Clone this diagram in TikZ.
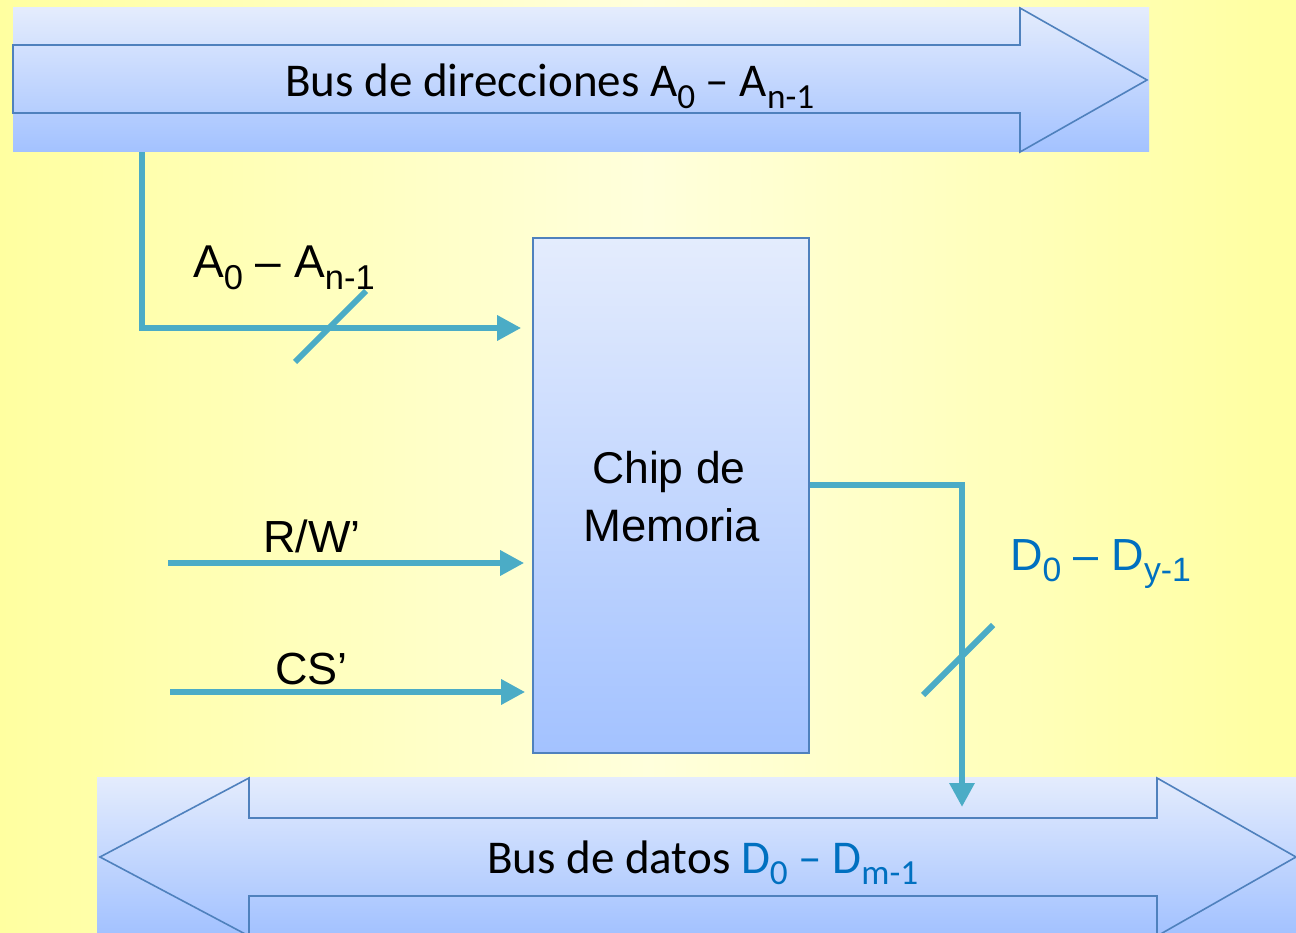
\documentclass[tikz,border=0pt]{standalone}
\usepackage{fontspec}
\setmainfont{Liberation Sans}
\newfontfamily\busfont{Carlito}
\usetikzlibrary{arrows.meta}
\definecolor{wire}{HTML}{4BACC6}
\definecolor{edgeblue}{HTML}{4F81BD}
\definecolor{dblue}{HTML}{0070C0}
\definecolor{boxtop}{HTML}{E4ECFD}
\definecolor{boxbot}{HTML}{A3C2FF}
\definecolor{bgside}{HTML}{FFFFA0}
\definecolor{bgmid}{HTML}{FFFFDC}
\newcommand{\subt}[1]{\raisebox{-0.25em}{\scalebox{0.75}{#1}}}
\begin{document}
\begin{tikzpicture}[x=1pt,y=-1pt,
  wirestyle/.style={draw=wire, line width=6pt, line join=miter},
  wirearrow/.style={wirestyle, -{Triangle[length=24pt,width=24pt]}},
  boxfill/.style={top color=boxtop, bottom color=boxbot, draw=none},
  busline/.style={draw=edgeblue, line width=1.6pt, line join=miter},
  chipstyle/.style={top color=boxtop, bottom color=boxbot, draw=edgeblue, line width=1.6pt, minimum width=276pt, minimum height=515pt, inner sep=0pt},
  lbl/.style={anchor=base west, inner sep=0pt, font=\fontsize{46}{55}\selectfont},
  buslbl/.style={anchor=base west, inner sep=0pt, font=\busfont\fontsize{47}{56}\selectfont}]
\useasboundingbox (0,0) rectangle (1296,933);
\shade[left color=bgside, right color=bgside, middle color=bgmid] (0,0) rectangle (1296,933);

% address bus
\node[boxfill, minimum width=1136pt, minimum height=144pt, inner sep=0pt] (busA) at (581,80) {};
\draw[busline] (13,45) -- (1020,45) -- (1020,8) -- (1147,80) -- (1020,152) -- (1020,113) -- (13,113) -- cycle;
\node[buslbl] (busAtext) at (285,97) {Bus de direcciones A\subt{0} – A\subt{n-1}};

% data bus
\node[boxfill, minimum width=1199pt, minimum height=156pt, inner sep=0pt] (busD) at (696.5,855) {};
\draw[busline] (100,857) -- (249,778) -- (249,818) -- (1157,818) -- (1157,778) -- (1296,857) -- (1157,936) -- (1157,896) -- (249,896) -- (249,936) -- cycle;
\node[buslbl] (busDtext) at (487,873) {Bus de datos \textcolor{dblue}{D\subt{0} – D\subt{m-1}}};

% chip
\node[chipstyle] (chip) at (671,495.5) {};
\node[lbl, font=\fontsize{44.5}{54}\selectfont] (chip1) at (592,483) {Chip de};
\node[lbl, font=\fontsize{45.5}{54}\selectfont] (chip2) at (583,541) {Memoria};

% address wire
\coordinate (aTop) at (142,152);
\coordinate (aCorner) at (142,328);
\draw[wirearrow] (busA.south -| aTop) -- (aCorner) -- ([xshift=-11pt]chip.west |- aCorner);
\draw[wirestyle] (295,362) -- (366,291);
\node[lbl] (alabel) at (193,278) {A\subt{0} – A\subt{n-1}};

% control wires
\coordinate (rwStart) at (168,563);
\coordinate (csStart) at (170,692);
\draw[wirearrow] (rwStart) -- ([xshift=-8pt]chip.west |- rwStart);
\draw[wirearrow] (csStart) -- ([xshift=-7pt]chip.west |- csStart);
\node[lbl, font=\fontsize{45}{54}\selectfont] (rwlabel) at (263,552) {R/W’};
\node[lbl, font=\fontsize{45}{54}\selectfont] (cslabel) at (275,684) {CS’};

% data wire
\coordinate (dOut) at (809,485);
\coordinate (dCorner) at (962,485);
\coordinate (dEnd) at (962,807);
\draw[wirearrow] (chip.east |- dOut) -- (dCorner) -- (dEnd);
\draw[wirestyle] (923,695) -- (993,625);
\node[lbl, text=dblue, font=\fontsize{45}{54}\selectfont] (dlabel) at (1010,570) {D\subt{0} – D\subt{y-1}};
\end{tikzpicture}
\end{document}
